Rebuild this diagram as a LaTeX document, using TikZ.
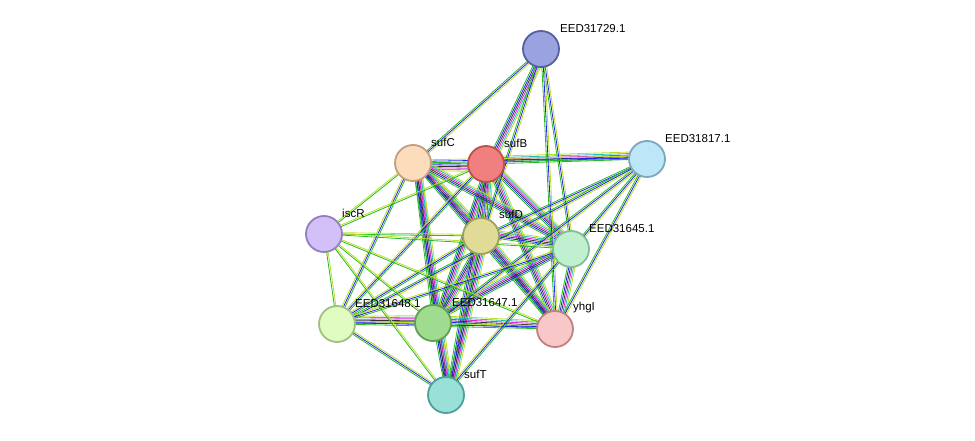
\documentclass[tikz,border=0pt]{standalone}
\usepackage{fontspec}
\setmainfont{Liberation Sans}
\usetikzlibrary{calc}
\definecolor{eg}{HTML}{22BB22}
\definecolor{eb}{HTML}{2222EE}
\definecolor{ek}{HTML}{333333}
\definecolor{em}{HTML}{DD22DD}
\definecolor{ec}{HTML}{22BBBB}
\definecolor{ey}{HTML}{BBDD22}
\tikzset{
  prot/.style={circle,minimum size=36pt,inner sep=0pt,line width=1.8pt},
  lbl/.style={anchor=south west,font=\fontsize{11.5}{12}\selectfont,inner sep=1pt},
}
\newcommand{\edg}[3]{% from, to, color list
  \foreach \c [count=\k] in {#3}{
    \pgfmathsetmacro{\o}{(\k-1)*1.5}
    \draw[color=\c,line width=0.8pt] ($(#1)!\o pt!90:(#2)$) -- ($(#2)!\o pt!-90:(#1)$);
  }}
\begin{document}
\begin{tikzpicture}[x=1pt,y=-1pt]
\useasboundingbox (0,0) rectangle (975,441);
\coordinate (a) at (541,49);
\coordinate (c) at (413,163);
\coordinate (b) at (486,164);
\coordinate (e) at (647,159);
\coordinate (i) at (324,234);
\coordinate (d) at (481,236);
\coordinate (f) at (571,249);
\coordinate (g) at (337,324);
\coordinate (h) at (433,323);
\coordinate (y) at (555,329);
\coordinate (t) at (446,395);
\foreach \p/\q in {b/c,b/d,c/d,b/h,c/h,d/h,b/f,b/y,c/y,d/y,c/t,b/t,h/t,d/t,h/y,g/h,a/b,b/e,d/f,f/y,h/f,c/f}{
  \edg{\p}{\q}{eg,eb,ek,em,ec,ey}
}
\foreach \p/\q in {a/c,a/d,a/f,a/y,e/d,e/f,e/y,e/h,e/g,g/b,g/c,g/d,g/f,g/y,g/t,t/f,c/e}{
  \edg{\p}{\q}{eg,eb,ey}
}
\foreach \p/\q in {i/c,i/b,i/d,i/f,i/g,i/h,i/y,i/t}{
  \edg{\p}{\q}{eg,ey}
}
\node[prot,fill={rgb,255:red,154;green,163;blue,224},draw={rgb,255:red,85;green,96;blue,160}] (A) at (a) {};
\node[prot,fill={rgb,255:red,253;green,220;blue,187},draw={rgb,255:red,192;green,160;blue,128}] (C) at (c) {};
\node[prot,fill={rgb,255:red,240;green,128;blue,128},draw={rgb,255:red,192;green,80;blue,80}] (B) at (b) {};
\node[prot,fill={rgb,255:red,189;green,230;blue,248},draw={rgb,255:red,122;green,168;blue,192}] (E) at (e) {};
\node[prot,fill={rgb,255:red,212;green,192;blue,248},draw={rgb,255:red,144;green,128;blue,192}] (I) at (i) {};
\node[prot,fill={rgb,255:red,224;green,220;blue,152},draw={rgb,255:red,160;green,160;blue,96}] (D) at (d) {};
\node[prot,fill={rgb,255:red,192;green,240;blue,208},draw={rgb,255:red,128;green,192;blue,144}] (F) at (f) {};
\node[prot,fill={rgb,255:red,224;green,252;blue,192},draw={rgb,255:red,160;green,192;blue,128}] (G) at (g) {};
\node[prot,fill={rgb,255:red,160;green,220;blue,144},draw={rgb,255:red,96;green,160;blue,80}] (H) at (h) {};
\node[prot,fill={rgb,255:red,248;green,200;blue,200},draw={rgb,255:red,192;green,128;blue,128}] (Y) at (y) {};
\node[prot,fill={rgb,255:red,152;green,224;blue,216},draw={rgb,255:red,80;green,160;blue,152}] (T) at (t) {};
\node[lbl] (lA) at (559,34) {EED31729.1};
\node[lbl] (lC) at (430,148) {sufC};
\node[lbl] (lB) at (503,149) {sufB};
\node[lbl] (lE) at (664,144) {EED31817.1};
\node[lbl] (lI) at (341,219) {iscR};
\node[lbl] (lD) at (498,220) {sufD};
\node[lbl] (lF) at (588,234) {EED31645.1};
\node[lbl] (lG) at (354,309) {EED31648.1};
\node[lbl] (lH) at (451,308) {EED31647.1};
\node[lbl] (lY) at (572,314) {yhgI};
\node[lbl] (lT) at (463,380) {sufT};
\end{tikzpicture}
\end{document}
